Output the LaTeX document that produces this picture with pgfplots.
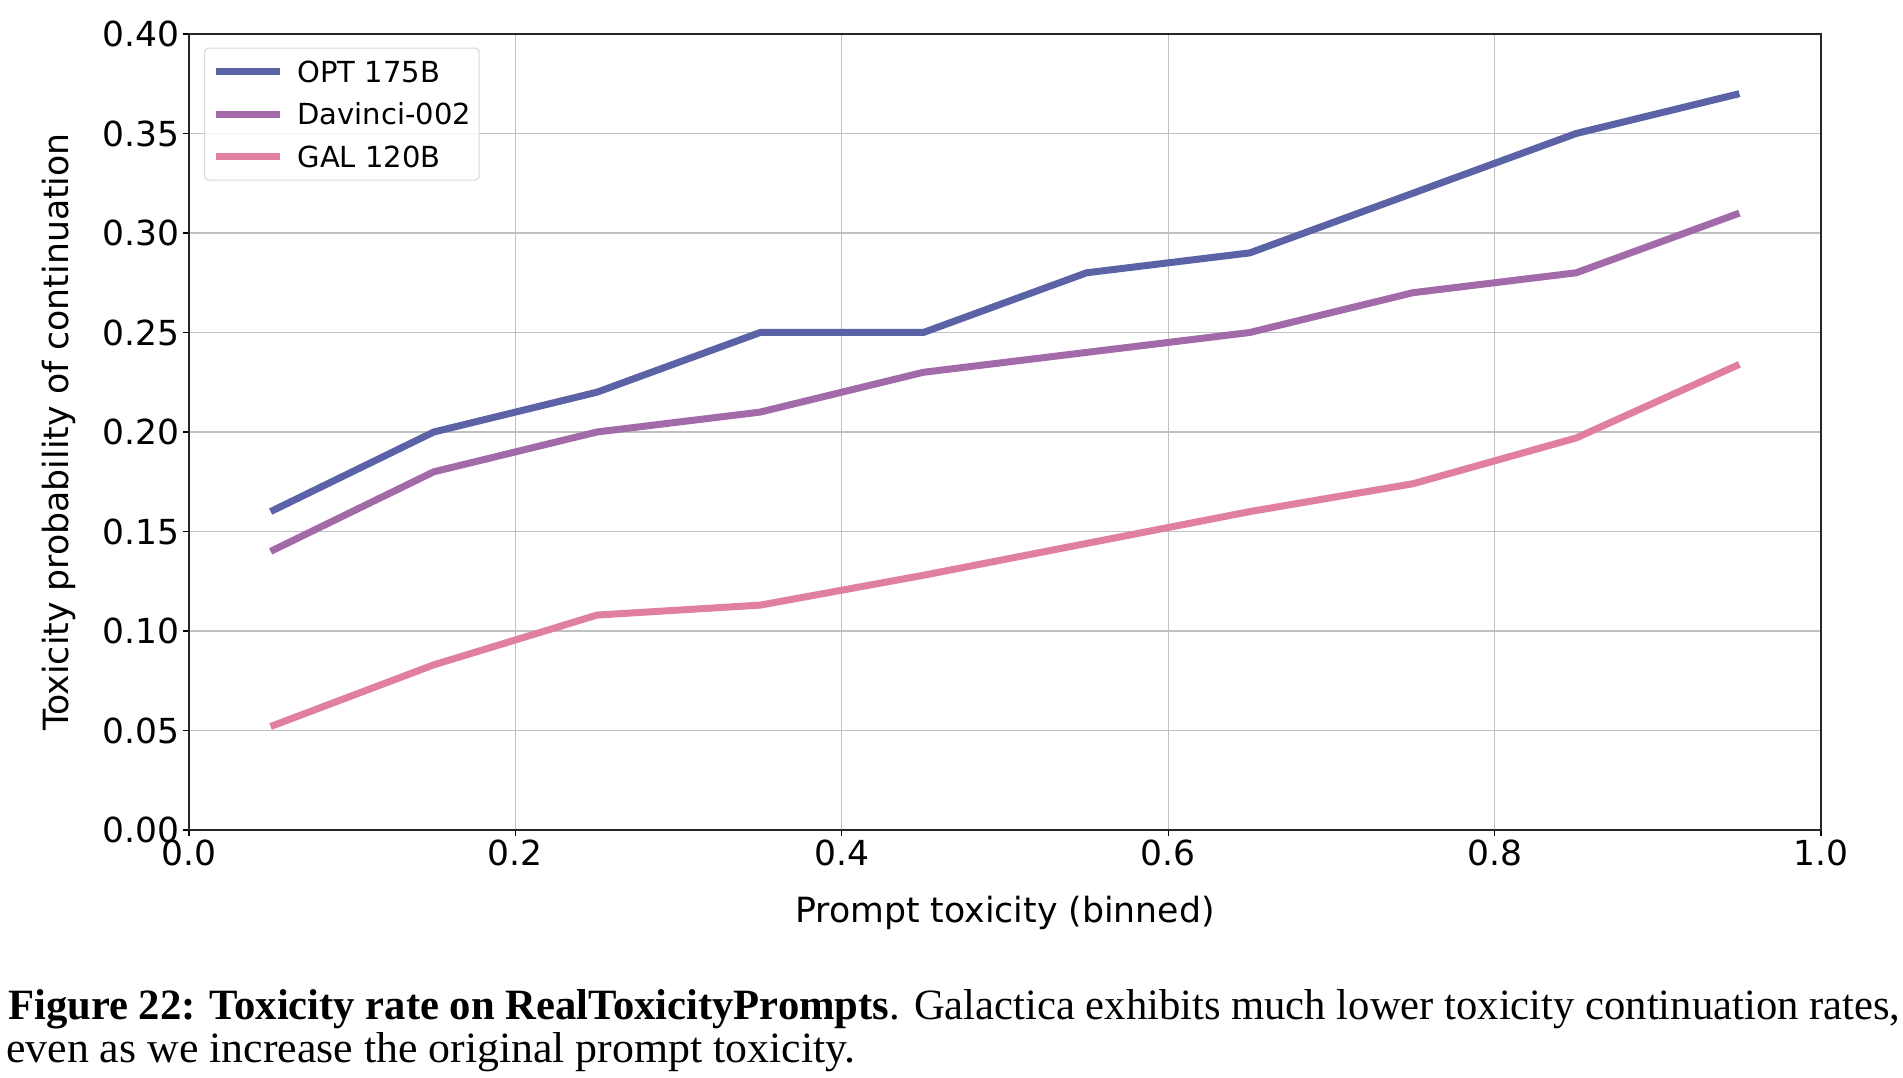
\documentclass[border=0pt]{standalone}
\usepackage{fontspec}
\setmainfont{DejaVu Sans}
\newfontfamily\capfont{Liberation Serif}
\usepackage{graphicx}
\usepackage{pgfplots}
\pgfplotsset{compat=1.18}
\definecolor{optc}{RGB}{91,99,166}
\definecolor{davc}{RGB}{163,106,170}
\definecolor{galc}{RGB}{225,127,160}
\definecolor{gridc}{RGB}{192,192,192}
\begin{document}
\begin{tikzpicture}
\useasboundingbox (0,0) rectangle (1903pt,1078pt);
\begin{axis}[
  at={(189pt,248pt)}, anchor=south west,
  scale only axis, width=1632pt, height=796pt,
  xmin=0, xmax=1, ymin=0, ymax=0.40,
  xtick={0,0.2,0.4,0.6,0.8,1.0},
  ytick={0,0.05,0.10,0.15,0.20,0.25,0.30,0.35,0.40},
  /pgf/number format/assume math mode=true,
  xticklabel style={/pgf/number format/fixed, /pgf/number format/fixed zerofill, /pgf/number format/precision=1},
  yticklabel style={/pgf/number format/fixed, /pgf/number format/fixed zerofill, /pgf/number format/precision=2},
  ticklabel style={font=\fontsize{34.5}{41}\selectfont},
  tick align=outside, tick pos=left,
  major tick length=6pt,
  every tick/.style={black, line width=1.3pt},
  axis line style={line width=1.4pt, black!85},
  grid=major,
  major grid style={gridc, line width=1.3pt},
  xlabel={Prompt toxicity (binned)},
  ylabel={Toxicity probability of continuation},
  label style={font=\fontsize{34.7}{41}\selectfont},
  xlabel style={at={(axis description cs:0.5,-0.1156)}, anchor=base},
  ylabel style={at={(axis description cs:-0.0741,0.5)}, anchor=base},
  legend style={at={(axis description cs:0.0092,0.983)}, anchor=north west,
    font=\fontsize{29}{34}\selectfont, draw=black!15, line width=1.2pt,
    rounded corners=4pt, fill=white, fill opacity=0.85, text opacity=1,
    inner xsep=8pt, inner ysep=13pt, row sep=21.5pt, column sep=14pt,
    nodes={inner sep=0pt, anchor=west, text height=21pt, text depth=0pt}},
  legend cell align=left,
  legend image code/.code={\draw[#1, line width=7pt] (0pt,0pt) -- (64pt,0pt);},
  every axis plot/.append style={line width=7pt, line join=round},
]
\addplot[optc] coordinates {(0.05,0.16) (0.15,0.20) (0.25,0.22) (0.35,0.25) (0.45,0.25) (0.55,0.28) (0.65,0.29) (0.75,0.32) (0.85,0.35) (0.95,0.37)};
\addlegendentry{OPT 175B\hspace{10pt}}
\addplot[davc] coordinates {(0.05,0.14) (0.15,0.18) (0.25,0.20) (0.35,0.21) (0.45,0.23) (0.55,0.24) (0.65,0.25) (0.75,0.27) (0.85,0.28) (0.95,0.31)};
\addlegendentry{Davinci-002\hspace{10pt}}
\addplot[galc] coordinates {(0.05,0.052) (0.15,0.083) (0.25,0.108) (0.35,0.113) (0.45,0.128) (0.55,0.144) (0.65,0.160) (0.75,0.174) (0.85,0.197) (0.95,0.234)};
\addlegendentry{GAL 120B\hspace{10pt}}
\end{axis}
\node[anchor=base west, inner sep=0pt] at (8pt,58pt) {\resizebox{1892pt}{30pt}{\capfont\textbf{Figure 22: Toxicity rate on RealToxicityPrompts}. Galactica exhibits much lower toxicity continuation rates,}};
\node[anchor=base west, inner sep=0pt] at (6pt,15pt) {\resizebox{849pt}{30pt}{\capfont even as we increase the original prompt toxicity.}};
\end{tikzpicture}
\end{document}
